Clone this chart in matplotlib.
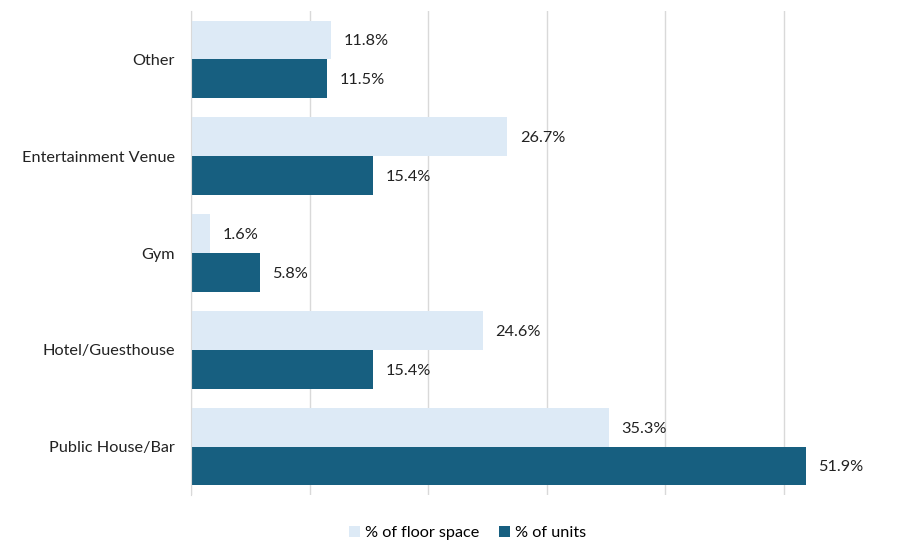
import matplotlib
matplotlib.use("Agg")
import matplotlib.pyplot as plt
import numpy as np

categories = ["Public House/Bar", "Hotel/Guesthouse", "Gym", "Entertainment Venue", "Other"]
floor_space = [35.3, 24.6, 1.6, 26.7, 11.8]
units = [51.9, 15.4, 5.8, 15.4, 11.5]
series_names = ["% of floor space", "% of units"]

plt.rcParams['font.family'] = ['Lato', 'DejaVu Sans']

light = "#DDEAF6"
dark = "#175F80"
fs = 11.7

fig = plt.figure(figsize=(8.99, 5.41), dpi=100)
ax = fig.add_axes([191/899, 1-495/541, 1-191/899, 484/541])

y = np.arange(len(categories))
h = 0.4
b1 = ax.barh(y + h/2, floor_space, height=h, color=light, label=series_names[0])
b2 = ax.barh(y - h/2, units, height=h, color=dark, label=series_names[1])

for bars, vals in ((b1, floor_space), (b2, units)):
    for rect, v in zip(bars, vals):
        ax.text(rect.get_width() + 1.05, rect.get_y() + rect.get_height()/2 - 0.015,
                f"{v:.1f}%", va="center", ha="left", fontsize=fs, color="#222222")

ax.set_xlim(0, (899-191)/118.5*10)
ax.set_ylim(-0.5, 4.5)
ax.set_xticks([0, 10, 20, 30, 40, 50])
ax.set_xticklabels([])
ax.tick_params(axis="x", length=0)
ax.set_yticks(y)
ax.set_yticklabels(categories, fontsize=fs, color="#222222")
ax.tick_params(axis="y", length=0, pad=11.5)
ax.grid(axis="x", color="#D9D9D9", linewidth=1)
ax.set_axisbelow(True)
for s in ["top", "right", "bottom"]:
    ax.spines[s].set_visible(False)
ax.spines["left"].set_color("#D9D9D9")

fig.legend(handles=[b1, b2], labels=series_names, loc="lower center",
           bbox_to_anchor=(0.52, -0.025), ncol=2, frameon=False, fontsize=fs,
           handlelength=0.7, handleheight=0.7, handletextpad=0.3, columnspacing=1.2)

fig.savefig("out.png", dpi=100)
